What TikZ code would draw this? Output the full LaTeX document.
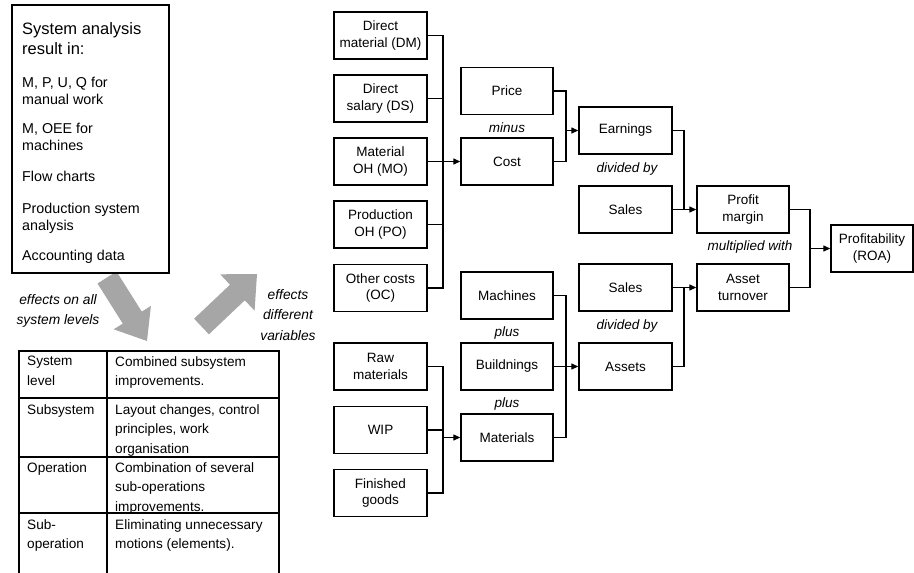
\documentclass[tikz,border=0pt]{standalone}
\usepackage{fontspec}
\setmainfont{Liberation Sans}
\usetikzlibrary{arrows.meta}
\begin{document}
\begin{tikzpicture}[x=1pt,y=-1pt,
  box/.style={draw,line width=1.4pt,minimum height=47pt,inner sep=1pt,align=center,
    font=\fontsize{13.5}{16.7}\selectfont},
  boxA/.style={box,minimum width=93pt},
  boxB/.style={box,minimum width=92pt},
  lbl/.style={inner sep=0pt,align=center,font=\fontsize{13.5}{20}\selectfont\itshape},
  con/.style={line width=1.3pt},
  arr/.style={con,-{Triangle[length=7pt,width=6pt]}},
  bigarrow/.style={fill=black!35,draw=none},
  ltxt/.style={anchor=north west,inner sep=0pt,align=left,font=\fontsize{14.3}{17.5}\selectfont},
  ttxt/.style={anchor=north west,inner sep=0pt,align=left,font=\fontsize{13.6}{19.5}\selectfont},
  tline/.style={line width=1.3pt}
]
\useasboundingbox (0,0) rectangle (914,573);

% big gray arrows
\fill[bigarrow] (97.5,283.5) -- (116.5,271.5) -- (141.8,311.6) -- (150.9,305.9) -- (147,341)
  -- (113.7,329.3) -- (122.8,323.6) -- cycle;
\fill[bigarrow] (194.1,318.7) -- (230.0,284.7) -- (220.2,274.3) -- (257,274) -- (254.6,310.7)
  -- (244.8,300.3) -- (208.9,334.3) -- cycle;

% left box
\draw[line width=1.4pt,fill=white] (12,5) rectangle (169,273);
\node[ltxt,font=\fontsize{16.5}{20}\selectfont] (t0) at (22,22) {System analysis\\result in:};
\node[ltxt] (t1) at (22,76.5) {M, P, U, Q for\\manual work};
\node[ltxt] (t2) at (22,122.5) {M, OEE for\\machines};
\node[ltxt] (t3) at (22,170.5) {Flow charts};
\node[ltxt] (t4) at (22,202.5) {Production system\\analysis};
\node[ltxt] (t5) at (22,249.5) {Accounting data};

\node[lbl,font=\fontsize{13.8}{19.5}\selectfont\itshape] (eff1) at (58,311) {effects on all\\system levels};
\node[lbl,font=\fontsize{13.8}{20.5}\selectfont\itshape] (eff2) at (288,315) {effects\\different\\variables};

% table
\draw[tline] (19,573) -- (19,351) -- (279,351) -- (279,573);
\draw[tline] (107,351) -- (107,573);
\draw[tline] (19,398) -- (279,398);
\draw[tline] (19,457) -- (279,457);
\draw[tline] (19,513) -- (279,513);
\node[ttxt] (c11) at (27,356) {System\\level};
\node[ttxt] (c12) at (115,356) {Combined subsystem\\improvements.};
\node[ttxt] (c21) at (27,404) {Subsystem};
\node[ttxt] (c22) at (115,404) {Layout changes, control\\principles, work\\organisation};
\node[ttxt] (c31) at (27,462) {Operation};
\node[ttxt] (c32) at (115,462) {Combination of several\\sub-operations\\improvements.};
\node[ttxt] (c41) at (27,519) {Sub-\\operation};
\node[ttxt] (c42) at (115,519) {Eliminating unnecessary\\motions (elements).};

% diagram boxes
\node[boxA] (DM) at (380.5,35.5) {Direct\\material (DM)};
\node[boxA] (DS) at (380.5,98.5) {Direct\\salary (DS)};
\node[boxA] (MO) at (380.5,161.5) {Material\\OH (MO)};
\node[boxA] (PO) at (380.5,224.5) {Production\\OH (PO)};
\node[boxA] (OC) at (380.5,288) {Other costs\\(OC)};
\node[boxA] (RM) at (380.5,366.5) {Raw\\materials};
\node[boxA] (WIP) at (380.5,430) {WIP};
\node[boxA] (FG) at (380.5,493) {Finished\\goods};

\node[boxB] (Price) at (507,91) {Price};
\node[boxB] (Cost) at (507,161.5) {Cost};
\node[boxB] (Mach) at (507,295.5) {Machines};
\node[boxB] (Bldg) at (507,366.5) {Buildnings};
\node[boxB] (Mat) at (507,437.5) {Materials};

\node[boxA] (Earn) at (625.5,130.5) {Earnings};
\node[boxA] (SalesA) at (625.5,209.5) {Sales};
\node[boxA] (SalesB) at (625.5,287.5) {Sales};
\node[boxA] (Assets) at (625.5,366.5) {Assets};

\node[boxB] (PM) at (743,209.5) {Profit\\margin};
\node[boxB] (AT) at (743,287.5) {Asset\\turnover};

\node[box,minimum width=82pt] (ROA) at (872,248.5) {Profitability\\(ROA)};

% operator labels
\node[lbl] (minus) at (507,128) {minus};
\node[lbl] (plus1) at (507,333) {plus};
\node[lbl] (plus2) at (507,404) {plus};
\node[lbl] (div1) at (627,169) {divided by};
\node[lbl] (div2) at (627,326) {divided by};
\node[lbl] (mult) at (750,247) {multiplied with};

% connectors
\coordinate (bA) at (443,0);
\coordinate (bB) at (566,0);
\coordinate (bC) at (684,0);
\coordinate (bD) at (810,0);

\draw[con] (DM.east) -- (DM.east -| bA) -- (OC.east -| bA) -- (OC.east);
\draw[con] (DS.east) -- (DS.east -| bA);
\draw[con] (PO.east) -- (PO.east -| bA);
\draw[arr] (MO.east) -- (Cost.west);

\draw[con] (Price.east) -- (Price.east -| bB) -- (Cost.east -| bB) -- (Cost.east);
\draw[arr] (Earn.west -| bB) -- (Earn.west);

\draw[con] (RM.east) -- (RM.east -| bA) -- (FG.east -| bA) -- (FG.east);
\draw[con] (WIP.east) -- (WIP.east -| bA);
\draw[arr] (Mat.west -| bA) -- (Mat.west);

\draw[con] (Mach.east) -- (Mach.east -| bB) -- (Mat.east -| bB) -- (Mat.east);
\draw[arr] (Bldg.east) -- (Assets.west);

\draw[con] (Earn.east) -- (Earn.east -| bC) -- (SalesA.east -| bC);
\draw[arr] (SalesA.east) -- (PM.west);
\draw[con] (Assets.east) -- (Assets.east -| bC) -- (SalesB.east -| bC);
\draw[arr] (SalesB.east) -- (AT.west);

\draw[con] (PM.east) -- (PM.east -| bD) -- (AT.east -| bD) -- (AT.east);
\draw[arr] (ROA.west -| bD) -- (ROA.west);
\end{tikzpicture}
\end{document}
